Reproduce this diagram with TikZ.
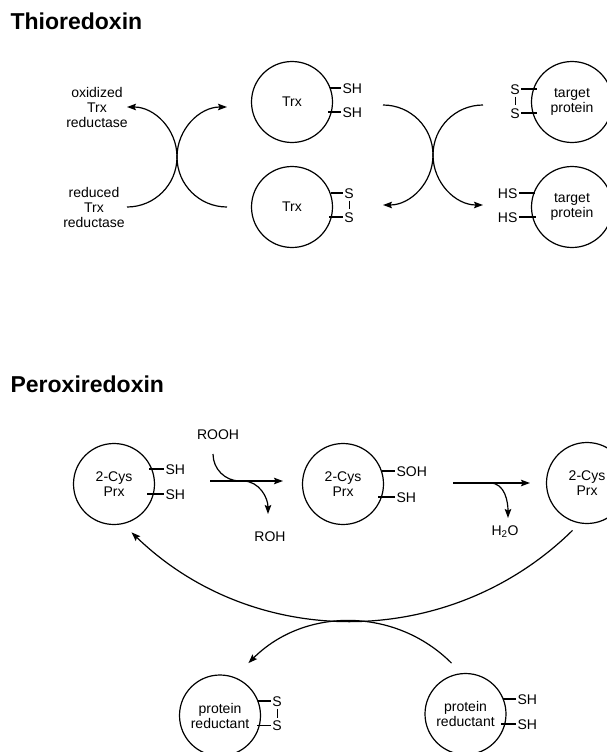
\documentclass[tikz,border=0pt]{standalone}
\usepackage{fontspec}
\setmainfont{Liberation Sans}
\usetikzlibrary{arrows.meta}
\begin{document}
\begin{tikzpicture}[x=1pt,y=-1pt,
  line width=1.2pt,
  cell/.style={circle,draw,line width=1.2pt,minimum size=81pt,inner sep=0pt,align=center,font=\fontsize{14}{15}\selectfont},
  lbl/.style={inner sep=1pt,font=\fontsize{14}{15}\selectfont,text height=10pt,text depth=0pt},
  txt/.style={align=center,font=\fontsize{14}{15}\selectfont,inner sep=0pt},
  ttl/.style={font=\fontsize{23}{27}\selectfont\bfseries,inner sep=0pt,anchor=base west},
  arr/.style={-{Stealth[length=9pt,width=6.5pt,inset=1.5pt]}},
  bar/.style={line width=1pt,shorten <=1pt,shorten >=1pt},
]
\useasboundingbox (0,0) rectangle (607,752);
\clip (0,0) rectangle (607,752);

% ---------------- Thioredoxin ----------------
\node[ttl] (t1) at (10,30) {Thioredoxin};
\node[cell] (trxA) at (292,102) {Trx};
\node[cell] (trxB) at (292,207) {Trx};
\node[cell] (tpA) at (572,102) {target\\protein};
\node[cell] (tpB) at (572,207) {target\\protein};

\node[lbl,anchor=west] (a1) at (341,88) {SH};
\node[lbl,anchor=west] (a2) at (341,112) {SH};
\draw (330,88) -- (a1.west);
\draw (328,112) -- (a2.west);

\node[lbl] (b1) at (349,193) {S};
\node[lbl] (b2) at (349,217) {S};
\draw (331,193) -- (b1.west);
\draw (329,217) -- (b2.west);
\draw[bar] (b1.south) -- (b2.north);

\node[lbl] (c1) at (515,89) {S};
\node[lbl] (c2) at (515,113) {S};
\draw (c1.east) -- (537,89);
\draw (c2.east) -- (537,113);
\draw[bar] (c1.south) -- (c2.north);

\node[lbl,anchor=east] (d1) at (519,193) {HS};
\node[lbl,anchor=east] (d2) at (519,217) {HS};
\draw (d1.east) -- (535,193);
\draw (d2.east) -- (536,217);

\node[txt] (ox) at (97,107) {oxidized\\Trx\\reductase};
\node[txt] (red) at (94,207) {reduced\\Trx\\reductase};

\coordinate (la) at (127,207);
\coordinate (lb) at (227,207);
\coordinate (ra) at (383,105);
\coordinate (rb) at (483,105);
\draw[arr] (la) arc[start angle=90,end angle=-90,radius=50];
\draw[arr] (lb) arc[start angle=90,end angle=270,radius=50];
\draw[arr] (ra) arc[start angle=-90,end angle=90,radius=50];
\draw[arr] (rb) arc[start angle=270,end angle=90,radius=50];

% ---------------- Peroxiredoxin ----------------
\node[ttl] (t2) at (10,392) {Peroxiredoxin};
\node[cell] (p1) at (114,484) {2-Cys\\Prx};
\node[cell] (p2) at (343,484) {2-Cys\\Prx};
\node[cell] (p3) at (587,483) {2-Cys\\Prx};

\node[lbl,anchor=west] (e1) at (164,469) {SH};
\node[lbl,anchor=west] (e2) at (164,494) {SH};
\draw[line width=1.8pt] (149,469) -- (e1.west);
\draw (147,494) -- (e2.west);

\node[lbl,anchor=west] (f1) at (395,471) {SOH};
\node[lbl,anchor=west] (f2) at (395,497) {SH};
\draw (382,471) -- (f1.west);
\draw (378,497) -- (f2.west);

\node[txt] (rooh) at (218,435) {ROOH};
\node[txt] (roh) at (270,537) {ROH};
\coordinate (s1) at (210,481);
\coordinate (s1e) at (283,481);
\draw[arr] (s1) -- (s1e);
\coordinate (rin) at (213,454);
\coordinate (rinE) at (240,481);
\draw (rin) to[out=-90,in=180] (rinE);
\coordinate (rout) at (243,481);
\coordinate (routE) at (268,514);
\draw[arr] (rout) to[out=0,in=90] (routE);

\coordinate (s2) at (453,483);
\coordinate (s2e) at (530,483);
\draw[arr] (s2) -- (s2e);
\coordinate (wout) at (490,483);
\coordinate (woutE) at (508,518);
\draw[arr] (wout) to[out=0,in=90] (woutE);
\node[txt] (h2o) at (505,532) {H\textsubscript{2}O};

\coordinate (big) at (572.5,530.4);
\draw[arr] (big) arc[start angle=45.5,end angle=134,radius=316];
\coordinate (small) at (451.5,663.1);
\draw[arr] (small) arc[start angle=-45,end angle=-135,radius=143.6];

\node[cell] (r1) at (220,715.5) {protein\\reductant};
\node[cell] (r2) at (465.5,714) {protein\\reductant};

\node[lbl] (g1) at (277,701) {S};
\node[lbl] (g2) at (277,725.5) {S};
\draw (258,701) -- (g1.west);
\draw (257,725.5) -- (g2.west);
\draw[bar] (g1.south) -- (g2.north);

\node[lbl,anchor=west] (h1) at (516,699) {SH};
\node[lbl,anchor=west] (h2) at (516,724) {SH};
\draw (503,699) -- (h1.west);
\draw (501,724) -- (h2.west);
\end{tikzpicture}
\end{document}
